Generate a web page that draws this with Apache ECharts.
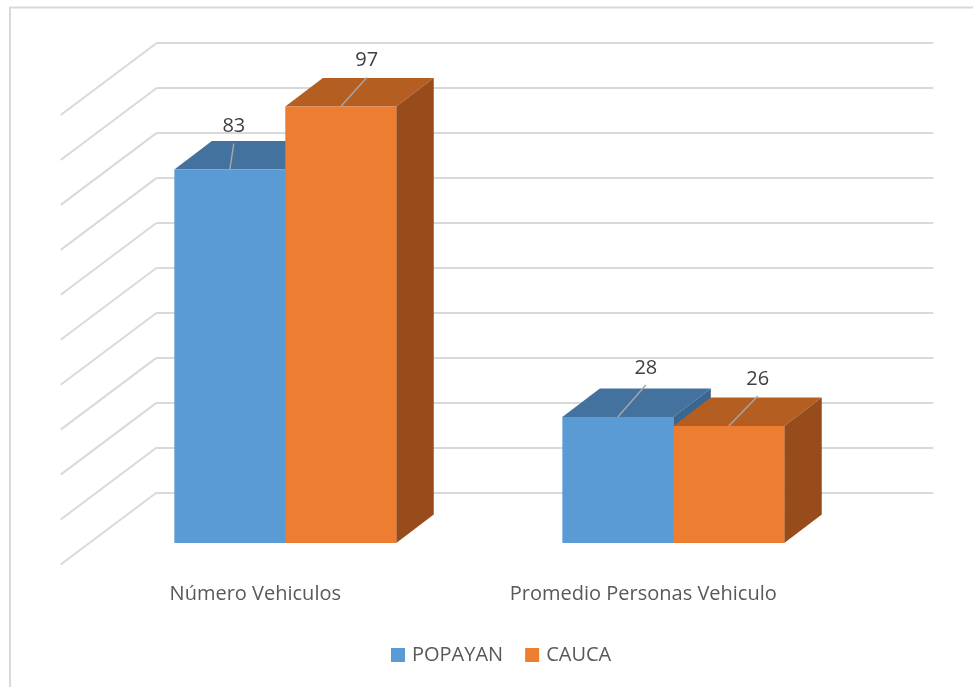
<!DOCTYPE html>
<html>
<head>
<meta charset="utf-8">
<script src="https://cdn.jsdelivr.net/npm/echarts@6/dist/echarts.min.js"></script>
<style>
  html, body { margin: 0; padding: 0; background: #fff; }
  #chart { width: 973px; height: 687px; }
</style>
</head>
<body>
<div id="chart"></div>
<script>
// data
const categories = ['Número Vehiculos', 'Promedio Personas Vehiculo'];
const popayan = [83, 28];
const cauca = [97, 26];
const wallValues = [0, 10, 20, 30, 40, 50, 60, 70, 80, 90, 100];

// 3d look
const DX = 37.5, DY = -28.5;       // bar depth offset
const WALL_DX = -96, WALL_DY = 72; // side wall diagonal
const BAR_FRAC = 0.286;
const FONT = '"Open Sans", sans-serif';

// leader line end, relative to the middle of the bar's front top edge
const leadPopayan = [[4, -26], [28, -32]];
const leadCauca = [[26, -29], [29, -30]];

function barRender(side, colors, leaders) {
  return function (params, api) {
    const cat = api.value(0), val = api.value(1);
    const base = api.coord([cat, 0]);
    const top = api.coord([cat, val]);
    const bw = api.size([1, 0])[0] * BAR_FRAC;
    const x0 = side === 0 ? base[0] - bw : base[0];
    const x1 = x0 + bw;
    const yb = base[1], yt = top[1];
    const lead = leaders[params.dataIndex];
    const sx = (x0 + x1) / 2, sy = yt;
    const ex = sx + lead[0], ey = sy + lead[1];
    return {
      type: 'group',
      children: [
        { type: 'polygon', shape: { points: [[x0, yt], [x1, yt], [x1 + DX, yt + DY], [x0 + DX, yt + DY]] },
          style: { fill: colors.top } },
        { type: 'polygon', shape: { points: [[x1, yt], [x1 + DX, yt + DY], [x1 + DX, yb + DY], [x1, yb]] },
          style: { fill: colors.side } },
        { type: 'rect', shape: { x: x0, y: yt, width: bw, height: yb - yt },
          style: { fill: colors.front } },
        { type: 'line', shape: { x1: sx, y1: sy, x2: ex, y2: ey },
          style: { stroke: '#A6A6A6', lineWidth: 1.5 } },
        { type: 'text', x: ex, y: ey - 17,
          style: { text: String(val), fill: '#404040', fontSize: 20, fontFamily: FONT,
            align: 'center', verticalAlign: 'middle' } }
      ]
    };
  };
}

const option = {
  backgroundColor: '#fff',
  animation: false,
  textStyle: { fontFamily: FONT },
  graphic: [{
    type: 'rect', silent: true, z: 0,
    shape: { x: 10, y: 7.5, width: 1200, height: 1000 },
    style: { fill: 'none', stroke: '#D9D9D9', lineWidth: 2 }
  }],
  legend: {
    data: ['POPAYAN', 'CAUCA'],
    left: 391, top: 645, padding: 0,
    icon: 'rect',
    itemWidth: 14, itemHeight: 14, itemGap: 22,
    textStyle: { fontSize: 20, color: '#595959', fontFamily: FONT, padding: [0, 0, 0, 2] }
  },
  grid: [
    { left: 91.3, right: 105.7, top: 93, bottom: 144 },
    { left: 156.7, right: 39.7, top: 43, bottom: 194.5 }
  ],
  xAxis: [
    { type: 'category', gridIndex: 0, data: categories,
      axisLine: { show: false }, axisTick: { show: false }, splitLine: { show: false },
      axisLabel: { fontSize: 20, color: '#595959', fontFamily: FONT, margin: 41, padding: [0, 60, 0, 0] } },
    { type: 'value', gridIndex: 1, min: 0, max: 1, show: false }
  ],
  yAxis: [
    { type: 'value', gridIndex: 0, min: 0, max: 100, interval: 10, show: false },
    { type: 'value', gridIndex: 1, min: 0, max: 100, interval: 10,
      axisLine: { show: false }, axisTick: { show: false }, axisLabel: { show: false },
      splitLine: { lineStyle: { color: '#D9D9D9', width: 2 } } }
  ],
  series: [
    {
      name: 'wall', type: 'custom', xAxisIndex: 1, yAxisIndex: 1, silent: true, z: 1,
      data: wallValues.map(v => [0, v]),
      renderItem: function (params, api) {
        const p = api.coord([0, api.value(1)]);
        return { type: 'line', shape: { x1: p[0], y1: p[1], x2: p[0] + WALL_DX, y2: p[1] + WALL_DY },
          style: { stroke: '#D9D9D9', lineWidth: 2 } };
      }
    },
    {
      name: 'POPAYAN', type: 'custom', xAxisIndex: 0, yAxisIndex: 0, z: 3,
      itemStyle: { color: '#5B9BD5' },
      encode: { x: 0, y: 1 },
      data: popayan.map((v, i) => [i, v]),
      renderItem: barRender(0, { front: '#5B9BD5', top: '#43729F', side: '#3A6690' }, leadPopayan)
    },
    {
      name: 'CAUCA', type: 'custom', xAxisIndex: 0, yAxisIndex: 0, z: 4,
      itemStyle: { color: '#ED7D31' },
      encode: { x: 0, y: 1 },
      data: cauca.map((v, i) => [i, v]),
      renderItem: barRender(1, { front: '#ED7D31', top: '#B45E22', side: '#984C1C' }, leadCauca)
    }
  ]
};

echarts.init(document.getElementById('chart')).setOption(option);
</script>
</body>
</html>
